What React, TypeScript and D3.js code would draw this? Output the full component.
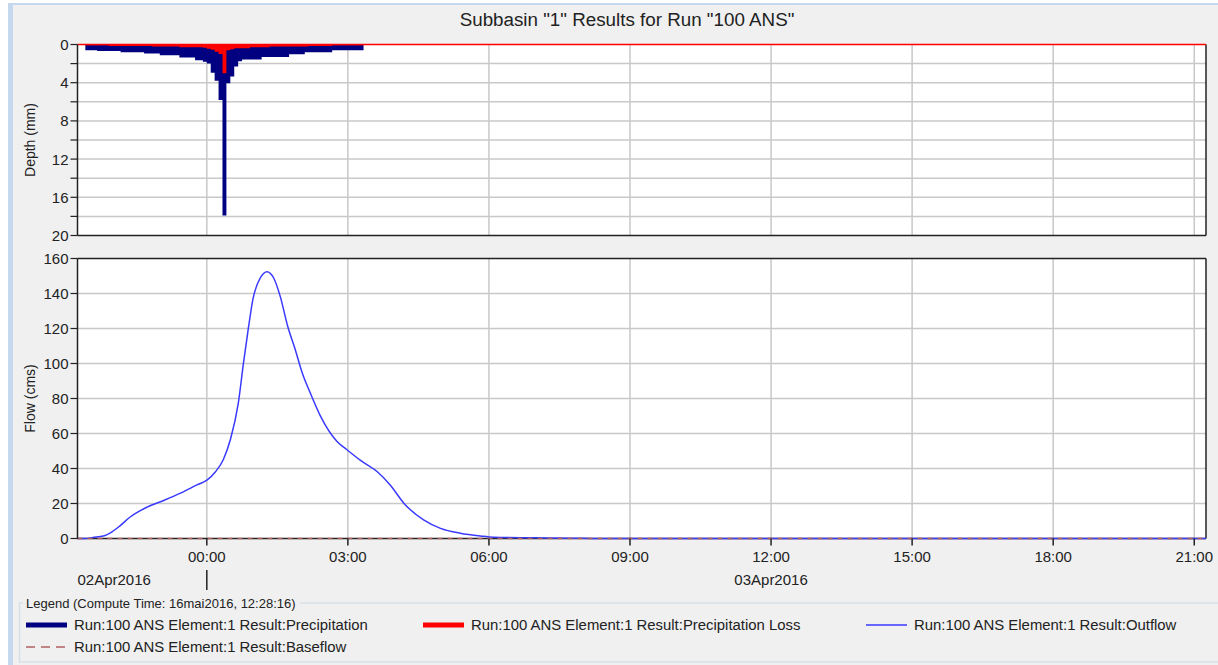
import React from "react";
import * as d3 from "d3";

const W = 1218;
const H = 665;
const FONT = "'Liberation Sans', Arial, sans-serif";

const chartTitle = 'Subbasin "1" Results for Run "100 ANS"';
const depthAxisTitle = "Depth (mm)";
const flowAxisTitle = "Flow (cms)";
const legendTitle = "Legend (Compute Time: 16mai2016, 12:28:16)";

// time axis (hours relative to 02Apr2016 24:00)
const timeDomain = [-2.75, 21.25];
const xTickHours = [0, 3, 6, 9, 12, 15, 18, 21];
const xTickLabels = ["00:00", "03:00", "06:00", "09:00", "12:00", "15:00", "18:00", "21:00"];
const dateLabels = ["02Apr2016", "03Apr2016"];
const dateHours = [-2.75, 12];
const dateAnchors = ["start", "middle"];
const dateSeparatorHour = 0;

const depthTicks = [0, 4, 8, 12, 16, 20];
const depthGrid = [2, 4, 6, 8, 10, 12, 14, 16, 18];
const depthMinor = [2, 6, 10, 14, 18];
const flowTicks = [0, 20, 40, 60, 80, 100, 120, 140, 160];

// precipitation blocks: 5-minute intervals starting at -2:35
const precipStartMin = -155;
const precipStepMin = 5;
const precipitation = [
  0.6, 0.6, 0.6,
  0.67, 0.67, 0.67, 0.67, 0.67, 0.67,
  0.8, 0.8, 0.8, 0.8, 0.8, 0.8,
  0.95, 0.95, 0.95, 0.95,
  1.12, 1.12, 1.12, 1.12, 1.12,
  1.36, 1.36, 1.36, 1.36,
  1.64, 1.64,
  1.8, 2.0, 2.95, 3.8, 5.8, 17.9, 4.05, 3.35, 2.3, 1.75,
  1.57, 1.57, 1.57, 1.57, 1.57,
  1.3, 1.3, 1.3, 1.3, 1.3, 1.3, 1.3,
  1.02, 1.02, 1.02, 1.02,
  0.8, 0.8, 0.8, 0.8, 0.8, 0.8, 0.8,
  0.6, 0.6, 0.6, 0.6, 0.6, 0.6, 0.6, 0.6,
];
const precipitationLoss = [
  0.08, 0.08, 0.08, 0.08, 0.08, 0.08,
  0.15, 0.15, 0.15, 0.15, 0.15, 0.15, 0.15, 0.15, 0.15, 0.15, 0.15,
  0.2, 0.2, 0.2, 0.2, 0.2, 0.2, 0.2,
  0.3, 0.3, 0.3, 0.3, 0.3, 0.3,
  0.35, 0.45, 0.55, 0.75, 1.0, 3.0, 0.6, 0.5,
  0.4, 0.4, 0.4, 0.4,
  0.3, 0.3, 0.3, 0.3, 0.3,
  0.2, 0.2, 0.2, 0.2, 0.2, 0.2, 0.2, 0.2, 0.2, 0.2,
  0.15, 0.15, 0.15, 0.15, 0.15, 0.15,
  0.08, 0.08, 0.08, 0.08, 0.08, 0.08, 0.08, 0.08,
];

// outflow hydrograph
const outflowHours = [
  -2.75, -2.58, -2.42, -2.2, -2.05, -1.84, -1.63, -1.27, -0.93, -0.56, -0.21,
  0.01, 0.18, 0.35, 0.5, 0.67, 0.78, 0.89, 0.98, 1.14, 1.28, 1.42, 1.56,
  1.72, 1.88, 2.03, 2.2, 2.42, 2.77, 2.98, 3.27, 3.62, 3.9, 4.19, 4.61,
  4.97, 5.39, 5.82, 6.1, 6.88, 7.73, 8.37, 21.25,
];
const outflowValues = [
  0, 0, 0.6, 1.4, 3.2, 7.4, 12.3, 17.9, 21.6, 25.9, 30.6,
  33.5, 38, 45, 56.4, 77.4, 100.3, 121.3, 136.6, 149, 152.5, 149, 138.5,
  121.3, 108, 94.6, 83.2, 69.8, 55.4, 50.7, 44.6, 38.3, 30.6, 20.2, 10.6,
  5.8, 3, 1.4, 0.7, 0.4, 0.2, 0, 0,
];
const baseflowHours = [-2.75, 21.25];
const baseflowValues = [0, 0];

const seriesNames = [
  "Run:100 ANS Element:1 Result:Precipitation",
  "Run:100 ANS Element:1 Result:Precipitation Loss",
  "Run:100 ANS Element:1 Result:Outflow",
  "Run:100 ANS Element:1 Result:Baseflow",
];
const seriesColors = ["#000080", "#ff0000", "#3a3aff", "#b06060"];

export default function App() {
  const left = 77.5;
  const right = 1206;
  const x = d3.scaleLinear().domain(timeDomain).range([left, right]);
  const yD = d3.scaleLinear().domain([0, 20]).range([44.5, 235.5]);
  const yF = d3.scaleLinear().domain([0, 160]).range([538.5, 258.5]);

  const flowLine = d3
    .line<number>()
    .x((_, i) => x(outflowHours[i]))
    .y((d) => yF(d))
    .curve(d3.curveMonotoneX);
  const baseLine = d3
    .line<number>()
    .x((_, i) => x(baseflowHours[i]))
    .y((d) => yF(d));

  const stepArea = (vals: number[]) => {
    const pts = vals.concat([vals[vals.length - 1]]);
    return (
      d3
        .area<number>()
        .x((_, i) => x((precipStartMin + i * precipStepMin) / 60))
        .y0(yD(0))
        .y1((d) => yD(d))
        .curve(d3.curveStepAfter)(pts) || ""
    );
  };

  const gridColor = "#c8c8c8";
  const axisColor = "#222";
  const legendCols = [26, 423, 866];
  const legendFont = 14.9;

  return (
    <svg
      width={W}
      height={H}
      style={{ position: "absolute", left: 0, top: 0, fontFamily: FONT }}
    >
      <rect x={0} y={0} width={W} height={H} fill="#f0f0f0" />
      <rect x={0} y={0} width={8} height={H} fill="#ffffff" />
      <rect x={0} y={0} width={W} height={3} fill="#ffffff" />
      <rect x={8} y={3} width={5} height={H} fill="#c6d8ee" />
      <rect x={8} y={3} width={W} height={2} fill="#c6d8ee" />

      <text x={627} y={25.5} fontSize={18.8} textAnchor="middle" fill="#222">
        {chartTitle}
      </text>

      {/* top panel */}
      <rect x={left} y={yD(0)} width={right - left} height={yD(20) - yD(0)} fill="#fff" />
      {depthGrid.map((v) => (
        <line key={"dg" + v} x1={left} x2={right} y1={yD(v)} y2={yD(v)} stroke={gridColor} strokeWidth={1.5} />
      ))}
      {xTickHours.map((h) => (
        <line key={"vg1" + h} x1={x(h)} x2={x(h)} y1={yD(0)} y2={yD(20)} stroke={gridColor} strokeWidth={1.5} />
      ))}
      <path d={stepArea(precipitation)} fill={seriesColors[0]} />
      <path d={stepArea(precipitationLoss)} fill={seriesColors[1]} />
      <line x1={right} x2={right} y1={yD(0)} y2={yD(20)} stroke={axisColor} strokeWidth={1.5} />
      <line x1={left} x2={right} y1={yD(20)} y2={yD(20)} stroke={axisColor} strokeWidth={1.5} />
      <line x1={left} x2={right} y1={yD(0)} y2={yD(0)} stroke={seriesColors[1]} strokeWidth={1.5} />
      <line x1={left} x2={left} y1={yD(0)} y2={yD(20)} stroke={axisColor} strokeWidth={1.5} />
      {depthTicks.concat(depthMinor).map((v) => (
        <line key={"dt" + v} x1={left - 7} x2={left} y1={yD(v)} y2={yD(v)} stroke={axisColor} strokeWidth={1.2} />
      ))}
      {depthTicks.map((v) => (
        <text key={"dl" + v} x={68.5} y={yD(v)} dy="0.36em" fontSize={15} textAnchor="end" fill="#222">
          {v}
        </text>
      ))}
      <text
        transform={`translate(35,${(yD(0) + yD(20)) / 2}) rotate(-90)`}
        fontSize={14}
        textAnchor="middle"
        fill="#222"
      >
        {depthAxisTitle}
      </text>

      {/* bottom panel */}
      <rect x={left} y={yF(160)} width={right - left} height={yF(0) - yF(160)} fill="#fff" />
      {flowTicks.slice(1, -1).map((v) => (
        <line key={"fg" + v} x1={left} x2={right} y1={yF(v)} y2={yF(v)} stroke={gridColor} strokeWidth={1.5} />
      ))}
      {xTickHours.map((h) => (
        <line key={"vg2" + h} x1={x(h)} x2={x(h)} y1={yF(160)} y2={yF(0)} stroke={gridColor} strokeWidth={1.5} />
      ))}
      <line x1={left} x2={right} y1={yF(160)} y2={yF(160)} stroke={axisColor} strokeWidth={1.5} />
      <line x1={right} x2={right} y1={yF(160)} y2={yF(0)} stroke={axisColor} strokeWidth={1.5} />
      <line x1={left} x2={right} y1={yF(0)} y2={yF(0)} stroke={axisColor} strokeWidth={1.5} />
      <path d={flowLine(outflowValues) || ""} fill="none" stroke={seriesColors[2]} strokeWidth={1.5} />
      <path
        d={baseLine(baseflowValues) || ""}
        fill="none"
        stroke={seriesColors[3]}
        strokeWidth={1.5}
        strokeDasharray="5,5"
      />
      <line x1={left} x2={left} y1={yF(0)} y2={yF(160)} stroke={axisColor} strokeWidth={1.5} />
      {flowTicks.map((v) => (
        <line key={"ft" + v} x1={left - 7} x2={left} y1={yF(v)} y2={yF(v)} stroke={axisColor} strokeWidth={1.2} />
      ))}
      {flowTicks.map((v) => (
        <text key={"fl" + v} x={68.5} y={yF(v)} dy="0.36em" fontSize={15} textAnchor="end" fill="#222">
          {v}
        </text>
      ))}
      <text
        transform={`translate(35,${(yF(0) + yF(160)) / 2}) rotate(-90)`}
        fontSize={14}
        textAnchor="middle"
        fill="#222"
      >
        {flowAxisTitle}
      </text>

      {/* time axis */}
      {xTickHours.map((h, i) => (
        <g key={"xt" + h}>
          <line x1={x(h)} x2={x(h)} y1={yF(0)} y2={yF(0) + 7} stroke={axisColor} strokeWidth={1.5} />
          <text x={x(h)} y={562} fontSize={15} textAnchor="middle" fill="#222">
            {xTickLabels[i]}
          </text>
        </g>
      ))}
      <line x1={x(dateSeparatorHour)} x2={x(dateSeparatorHour)} y1={570} y2={590} stroke={axisColor} strokeWidth={1.5} />
      {dateLabels.map((d, i) => (
        <text
          key={d}
          x={x(dateHours[i])}
          y={584.5}
          fontSize={15}
          textAnchor={dateAnchors[i] as any}
          fill="#222"
        >
          {d}
        </text>
      ))}

      {/* legend */}
      <rect x={19.5} y={603} width={1210} height={59} fill="none" stroke="#d6dfe8" strokeWidth={1.5} />
      <rect x={23} y={596} width={277} height={14} fill="#f0f0f0" />
      <text x={26} y={607.5} fontSize={13} fill="#222">
        {legendTitle}
      </text>
      <line x1={legendCols[0]} x2={legendCols[0] + 41} y1={625} y2={625} stroke={seriesColors[0]} strokeWidth={5} />
      <text x={legendCols[0] + 48} y={630} fontSize={legendFont} fill="#222">
        {seriesNames[0]}
      </text>
      <line x1={legendCols[1]} x2={legendCols[1] + 41} y1={625} y2={625} stroke={seriesColors[1]} strokeWidth={5} />
      <text x={legendCols[1] + 48} y={630} fontSize={legendFont} fill="#222">
        {seriesNames[1]}
      </text>
      <line x1={legendCols[2]} x2={legendCols[2] + 41} y1={625} y2={625} stroke={seriesColors[2]} strokeWidth={1.5} />
      <text x={legendCols[2] + 48} y={630} fontSize={legendFont} fill="#222">
        {seriesNames[2]}
      </text>
      <line
        x1={legendCols[0]}
        x2={legendCols[0] + 41}
        y1={647}
        y2={647}
        stroke={seriesColors[3]}
        strokeWidth={1.5}
        strokeDasharray="9,6"
      />
      <text x={legendCols[0] + 48} y={652} fontSize={legendFont} fill="#222">
        {seriesNames[3]}
      </text>
    </svg>
  );
}
